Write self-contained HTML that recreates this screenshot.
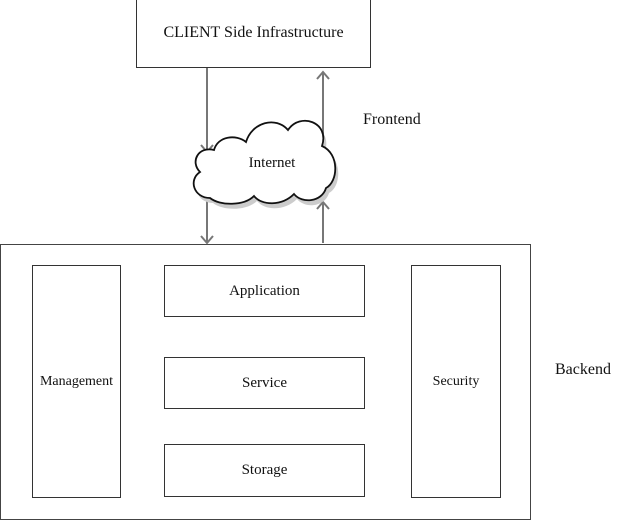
<!DOCTYPE html>
<html><head><style>
body{margin:0;width:622px;height:520px;background:#fff;position:relative;overflow:hidden;font-family:"Liberation Serif",serif;color:#111}
.b{position:absolute;border:1.5px solid #333;box-sizing:border-box;display:flex;align-items:center;justify-content:center;font-size:15px;background:#fff;font-family:"Liberation Serif",serif}
.t{position:absolute;font-size:16px;font-family:"Liberation Serif",serif}
</style></head><body>
<div class="b" style="left:136px;top:-2px;width:235px;height:70px;font-size:16px">CLIENT Side Infrastructure</div>
<div class="b" style="left:0;top:244px;width:531px;height:276px;border-color:#444"></div>
<div class="b" style="left:32px;top:265px;width:89px;height:233px;font-size:14px">Management</div>
<div class="b" style="left:164px;top:265px;width:201px;height:52px">Application</div>
<div class="b" style="left:164px;top:357px;width:201px;height:52px">Service</div>
<div class="b" style="left:164px;top:444px;width:201px;height:53px">Storage</div>
<div class="b" style="left:411px;top:265px;width:90px;height:233px;font-size:14px">Security</div>
<div class="t" style="left:363px;top:111px">Frontend</div>
<div class="t" style="left:555px;top:361px">Backend</div>
<svg width="622" height="520" style="position:absolute;left:0;top:0">
<g stroke="#777" stroke-width="2" fill="none">
<path d="M207 68V152M201 145L207 152L213 145"/>
<path d="M207 195V243M201 236L207 243L213 236"/>
<path d="M323 146V72M317 79L323 72L329 79"/>
<path d="M323 243V202M317 209L323 202L329 209"/>
</g>
<defs><path id="c" d="M210 198 C194 198 188 180 200 172 C190 162 198 146 214 150 C218 136 236 134 246 142 C252 122 276 116 288 130 C300 112 330 122 322 146 C340 154 338 182 326 188 C322 202 302 204 294 194 C282 206 262 206 254 196 C244 206 220 206 210 198Z"/></defs>
<use href="#c" fill="#ccc" transform="translate(3,5)"/>
<use href="#c" fill="#fff" stroke="#111" stroke-width="1.8"/>
<text x="272" y="167" font-family="Liberation Serif,serif" font-size="15" text-anchor="middle" fill="#111">Internet</text>
</svg>
</body></html>
